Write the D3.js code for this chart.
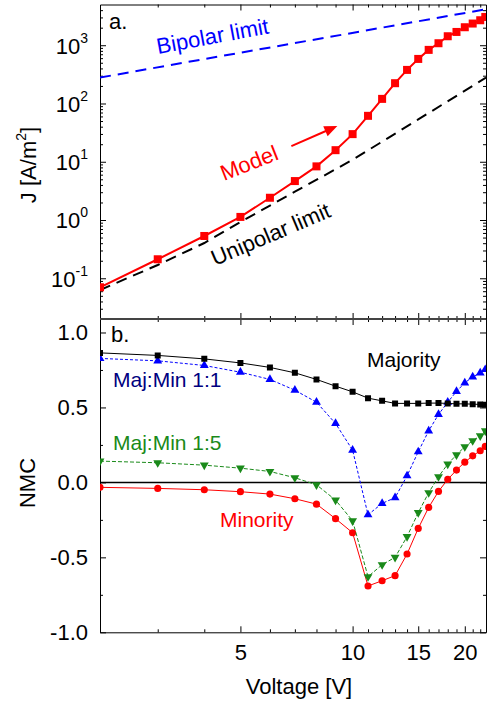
<!DOCTYPE html>
<html>
<head>
<meta charset="utf-8">
<script src="https://cdn.jsdelivr.net/npm/d3@7"></script>
<style>
  body { margin: 0; background: #fff; }
  svg { display: block; font-family: Arial, "Liberation Sans", sans-serif; }
</style>
</head>
<body>
<svg id="chart" width="487" height="705"></svg>
<script>
// voltages [V], shared by all series
const voltage = [2.1, 3, 4, 5, 6, 7, 8, 9, 10, 11, 12, 13, 14, 15, 16, 17, 18, 19, 20, 21, 22, 22.7];

// panel a: current density J [A/m2]
const model_j = [0.070, 0.212, 0.532, 1.13, 2.41, 4.66, 8.33, 15.8, 29.8, 61.4, 120, 223, 377, 582, 832, 1082, 1426, 1690, 2036, 2355, 2684, 3057];
const bipolar_v = [2.1, 22.8];
const bipolar_j = [279, 4140];
const unipolar_v = [2.1, 3, 4, 5, 7, 10, 15, 22.8];
const unipolar_j = [0.063, 0.169, 0.403, 0.924, 3.06, 10.8, 53.2, 278];

// panel b: NMC
const nmc_majority = [0.864, 0.847, 0.824, 0.797, 0.767, 0.731, 0.687, 0.642, 0.604, 0.562, 0.544, 0.527, 0.527, 0.527, 0.529, 0.529, 0.527, 0.524, 0.524, 0.522, 0.520, 0.518];
const nmc_1to1 = [0.827, 0.811, 0.780, 0.735, 0.687, 0.615, 0.535, 0.393, 0.215, -0.216, -0.140, -0.102, 0.044, 0.204, 0.344, 0.453, 0.535, 0.607, 0.664, 0.704, 0.730, 0.753];
const nmc_1to5 = [0.142, 0.131, 0.115, 0.095, 0.073, 0.031, -0.016, -0.118, -0.256, -0.629, -0.549, -0.500, -0.362, -0.202, -0.069, 0.038, 0.122, 0.184, 0.238, 0.278, 0.311, 0.344];
const nmc_minority = [-0.033, -0.040, -0.049, -0.062, -0.078, -0.109, -0.145, -0.242, -0.336, -0.691, -0.656, -0.622, -0.478, -0.307, -0.167, -0.060, 0.020, 0.082, 0.135, 0.177, 0.211, 0.240];

// ticks
const x_major = [5, 10, 15, 20];
const x_minor = [3, 4, 6, 7, 8, 9, 11, 12, 13, 14, 16, 17, 18, 19, 21, 22];
const j_major = [0.1, 1, 10, 100, 1000];
const j_minor = [0.03, 0.04, 0.05, 0.06, 0.07, 0.08, 0.09,
  0.2, 0.3, 0.4, 0.5, 0.6, 0.7, 0.8, 0.9, 2, 3, 4, 5, 6, 7, 8, 9,
  20, 30, 40, 50, 60, 70, 80, 90, 200, 300, 400, 500, 600, 700, 800, 900,
  2000, 3000, 4000];
const nmc_major = [-1.0, -0.5, 0.0, 0.5, 1.0];
const nmc_minor = [-0.75, -0.25, 0.25, 0.75];

// arrow next to "Model" (data coords)
const arrow_from = [6.85, 18.6];
const arrow_to = [9.1, 41];

const FONT = 22;
const left = 100, right = 486;
const top_a = 4.5, bottom_a = 319, top_b = 319, bottom_b = 632.3;

const svg = d3.select('#chart');

const x = d3.scaleLog().domain([2.1, 22.8]).range([left, right]);
const y_j = d3.scaleLog().domain([0.02, 5000]).range([bottom_a, top_a]);
const y_n = d3.scaleLinear().domain([-1.0, 1.09]).range([bottom_b, top_b]);

// clip paths
const defs = svg.append('defs');
defs.append('clipPath').attr('id', 'clip-a').append('rect')
  .attr('x', left).attr('y', top_a).attr('width', right - left).attr('height', bottom_a - top_a);
defs.append('clipPath').attr('id', 'clip-b').append('rect')
  .attr('x', left).attr('y', top_b).attr('width', right - left).attr('height', bottom_b - top_b);

// draw one axis (major + minor), ticks pointing inside; returns the major group
function add_axis(maker, scale, pos, major, minor, size, fmt){
  const g = svg.append('g').attr('transform', pos);
  g.append('g').call(maker(scale).tickValues(minor).tickSizeInner(-size / 2).tickSizeOuter(0).tickFormat(''))
    .call((m) => { m.select('.domain').remove(); m.selectAll('text').remove(); });
  const g_major = g.append('g').call(maker(scale).tickValues(major).tickSizeInner(-size).tickSizeOuter(0)
    .tickPadding(12).tickFormat(fmt || ''));
  if(!fmt){
    g_major.selectAll('text').remove();
  }
  g.selectAll('g').attr('font-size', FONT).attr('font-family', null);
  g.selectAll('line, path').attr('stroke', '#000');
  return g_major;
}

// ---- panel a ----
const ax_a_left = add_axis(d3.axisLeft, y_j, `translate(${left},0)`, j_major, j_minor, 6, (d) => 'x');
ax_a_left.selectAll('.tick text').each(function(d){
  const t = d3.select(this).text('').attr('dy', '0.36em');
  const e = Math.round(Math.log10(d));
  t.append('tspan').text('10');
  t.append('tspan').attr('font-size', 14).attr('dy', -11).text(e);
});
add_axis(d3.axisRight, y_j, `translate(${right},0)`, j_major, j_minor, 6);
add_axis(d3.axisTop, x, `translate(0,${top_a})`, x_major, x_minor, 6);
add_axis(d3.axisBottom, x, `translate(0,${bottom_a})`, x_major, x_minor, 6);

const plot_a = svg.append('g').attr('clip-path', 'url(#clip-a)');

const line_j = d3.line().x((d) => x(d[0])).y((d) => y_j(d[1]));

plot_a.append('path')
  .attr('d', line_j(d3.zip(bipolar_v, bipolar_j)))
  .attr('fill', 'none').attr('stroke', '#0000ff').attr('stroke-width', 2)
  .attr('stroke-dasharray', '11,7');

plot_a.append('path')
  .attr('d', line_j(d3.zip(unipolar_v, unipolar_j)))
  .attr('fill', 'none').attr('stroke', '#000').attr('stroke-width', 2)
  .attr('stroke-dasharray', '11,7');

const model_pts = d3.zip(voltage, model_j);
plot_a.append('path')
  .attr('d', line_j(model_pts))
  .attr('fill', 'none').attr('stroke', '#ff0000').attr('stroke-width', 2);
plot_a.selectAll('rect.model').data(model_pts).join('rect')
  .attr('class', 'model')
  .attr('x', (d) => x(d[0]) - 4).attr('y', (d) => y_j(d[1]) - 4)
  .attr('width', 8).attr('height', 8).attr('fill', '#ff0000');

// arrow
{
  const x0 = x(arrow_from[0]), y0 = y_j(arrow_from[1]);
  const x1 = x(arrow_to[0]), y1 = y_j(arrow_to[1]);
  const ang = Math.atan2(y1 - y0, x1 - x0) * 180 / Math.PI;
  const len = Math.hypot(x1 - x0, y1 - y0);
  const g = svg.append('g').attr('transform', `translate(${x0},${y0}) rotate(${ang})`);
  g.append('line').attr('x1', 0).attr('y1', 0).attr('x2', len - 10).attr('y2', 0)
    .attr('stroke', '#ff0000').attr('stroke-width', 2);
  g.append('path').attr('d', `M${len},0 L${len - 13},-5.5 L${len - 13},5.5 Z`).attr('fill', '#ff0000');
}

// labels
function add_label(txt, px, py, color, rot, size){
  return svg.append('text')
    .attr('transform', `translate(${px},${py}) rotate(${rot || 0})`)
    .attr('fill', color).attr('font-size', size || FONT)
    .text(txt);
}
add_label('a.', 109, 29, '#000');
add_label('Bipolar limit', 158, 54, '#0000ff', -10.5);
add_label('Model', 224, 181, '#ff0000', -21.5);
add_label('Unipolar limit', 215, 266, '#000', -23);

// y title a
svg.append('text')
  .attr('transform', `translate(36,165) rotate(-90)`)
  .attr('text-anchor', 'middle').attr('font-size', FONT)
  .call((t) => {
    t.append('tspan').text('J [A/m');
    t.append('tspan').attr('font-size', 14).attr('dy', -10).text('2');
    t.append('tspan').attr('dy', 10).text(']');
  });

// ---- panel b ----
add_axis(d3.axisLeft, y_n, `translate(${left},0)`, nmc_major, nmc_minor, 6, (d) => d3.format('.1f')(d).replace('−', '-'));
add_axis(d3.axisRight, y_n, `translate(${right},0)`, nmc_major, nmc_minor, 6);
add_axis(d3.axisTop, x, `translate(0,${top_b})`, x_major, x_minor, 6);
add_axis(d3.axisBottom, x, `translate(0,${bottom_b})`, x_major, x_minor, 6, d3.format('d'));

// boundary between panels
svg.append('line').attr('x1', left).attr('x2', right).attr('y1', bottom_a).attr('y2', bottom_a)
  .attr('stroke', '#444').attr('stroke-width', 2);

const plot_b = svg.append('g').attr('clip-path', 'url(#clip-b)');

// zero line
plot_b.append('line')
  .attr('x1', left).attr('x2', right).attr('y1', y_n(0)).attr('y2', y_n(0))
  .attr('stroke', '#000').attr('stroke-width', 1.5);

const line_n = d3.line().x((d) => x(d[0])).y((d) => y_n(d[1]));

const series_b = [
  {name: 'minority', vals: nmc_minority, color: '#ff0000', dash: null, sym: d3.symbolCircle, size: 40},
  {name: 'r15', vals: nmc_1to5, color: '#1a8a1a', dash: '4,2', sym: d3.symbolTriangle, size: 34, flip: true},
  {name: 'r11', vals: nmc_1to1, color: '#0000ff', dash: '3,2', sym: d3.symbolTriangle, size: 34},
  {name: 'majority', vals: nmc_majority, color: '#000', dash: null, sym: d3.symbolSquare, size: 36}
];

series_b.forEach((s) => {
  const pts = d3.zip(voltage, s.vals);
  plot_b.append('path')
    .attr('d', line_n(pts))
    .attr('fill', 'none').attr('stroke', s.color).attr('stroke-width', 1)
    .attr('stroke-dasharray', s.dash);
  plot_b.selectAll('path.m-' + s.name).data(pts).join('path')
    .attr('class', 'm-' + s.name)
    .attr('transform', (d) => `translate(${x(d[0])},${y_n(d[1])})` + (s.flip ? ' rotate(180)' : ''))
    .attr('d', d3.symbol().type(s.sym).size(s.size))
    .attr('fill', s.color);
});

add_label('b.', 111, 342, '#000');
add_label('Majority', 367, 367, '#000', 0, 21);
add_label('Maj:Min 1:1', 113, 387, '#000080', 0, 21);
add_label('Maj:Min 1:5', 113, 450, '#1a8a1a', 0, 21);
add_label('Minority', 220, 527, '#ff0000', 0, 21);

svg.append('text')
  .attr('transform', `translate(35,483) rotate(-90)`)
  .attr('text-anchor', 'middle').attr('font-size', FONT)
  .text('NMC');

svg.append('text')
  .attr('x', 299).attr('y', 694)
  .attr('text-anchor', 'middle').attr('font-size', FONT)
  .text('Voltage [V]');
</script>
</body>
</html>
